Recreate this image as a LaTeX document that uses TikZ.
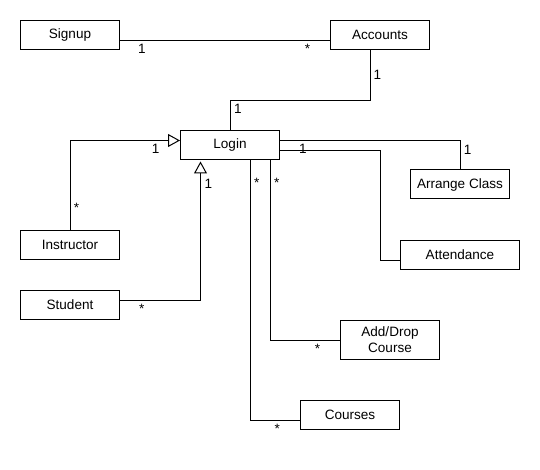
\documentclass[tikz,border=0pt]{standalone}
\usepackage{fontspec}
\setmainfont{Liberation Sans}
\usetikzlibrary{arrows.meta}

\begin{document}
\begin{tikzpicture}[
    x=1bp, y=-1bp,
    line width=1bp,
    font=\fontsize{13.6}{16}\selectfont,
    cls/.style={draw, fill=white, minimum width=99bp, minimum height=29bp, inner sep=0pt, align=center},
    mult/.style={anchor=base, inner sep=0pt},
    gen/.style={-{Triangle[open, length=12bp, width=13bp]}},
  ]
    \useasboundingbox (0,0) rectangle (540,470);
    % classes
    \node[cls] (signup) at (70,35) {Signup};
    \node[cls] (accounts) at (380,35) {Accounts};
    \node[cls] (login) at (230,145) {Login};
    \node[cls] (arrange) at (460,184.5) {Arrange Class};
    \node[cls, minimum width=119bp] (attend) at (460,255) {Attendance};
    \node[cls] (instructor) at (70,245) {Instructor};
    \node[cls] (student) at (70,305) {Student};
    \node[cls, minimum height=39bp] (adddrop) at (390,340) {Add/Drop\\Course};
    \node[cls] (courses) at (350,415) {Courses};
    % associations
    \draw ([yshift=-5.5bp]signup.east) -- ([yshift=-5.5bp]accounts.west);
    \draw ([xshift=-9.5bp]accounts.south) -- ++(0,50.5) -| (login.north);
    \draw ([yshift=4.5bp]login.east) -| (arrange.north);
    \draw ([yshift=-5.5bp]login.east) -| ([xshift=-20bp,yshift=-5.5bp]attend.west)
          -- ([yshift=-5.5bp]attend.west);
    \draw ([xshift=40.5bp]login.south) |- (adddrop.west);
    \draw ([xshift=20.5bp]login.south) |- ([yshift=-5bp]courses.west);
    % generalisations
    \draw[gen] (instructor.north) |- ([yshift=4.5bp]login.west);
    \draw[gen] ([yshift=4.5bp]student.east) -| ([xshift=-29.5bp,yshift=-1.5bp]login.south);
    % multiplicities
    \node[mult] (m1) at (142,54) {1};
    \node[mult] (m2) at (307.5,53.5) {*};
    \node[mult] (m3) at (377.5,79.5) {1};
    \node[mult] (m4) at (238,114) {1};
    \node[mult] (m5) at (155.7,154) {1};
    \node[mult] (m6) at (76.5,212.6) {*};
    \node[mult] (m7) at (141.7,313.3) {*};
    \node[mult] (m8) at (208.3,189) {1};
    \node[mult] (m9) at (256.7,188) {*};
    \node[mult] (m10) at (276.7,188) {*};
    \node[mult] (m11) at (302.8,154) {1};
    \node[mult] (m12) at (467.7,154.3) {1};
    \node[mult] (m13) at (317.5,353.3) {*};
    \node[mult] (m14) at (277.3,433.3) {*};
  \end{tikzpicture}
\end{document}
